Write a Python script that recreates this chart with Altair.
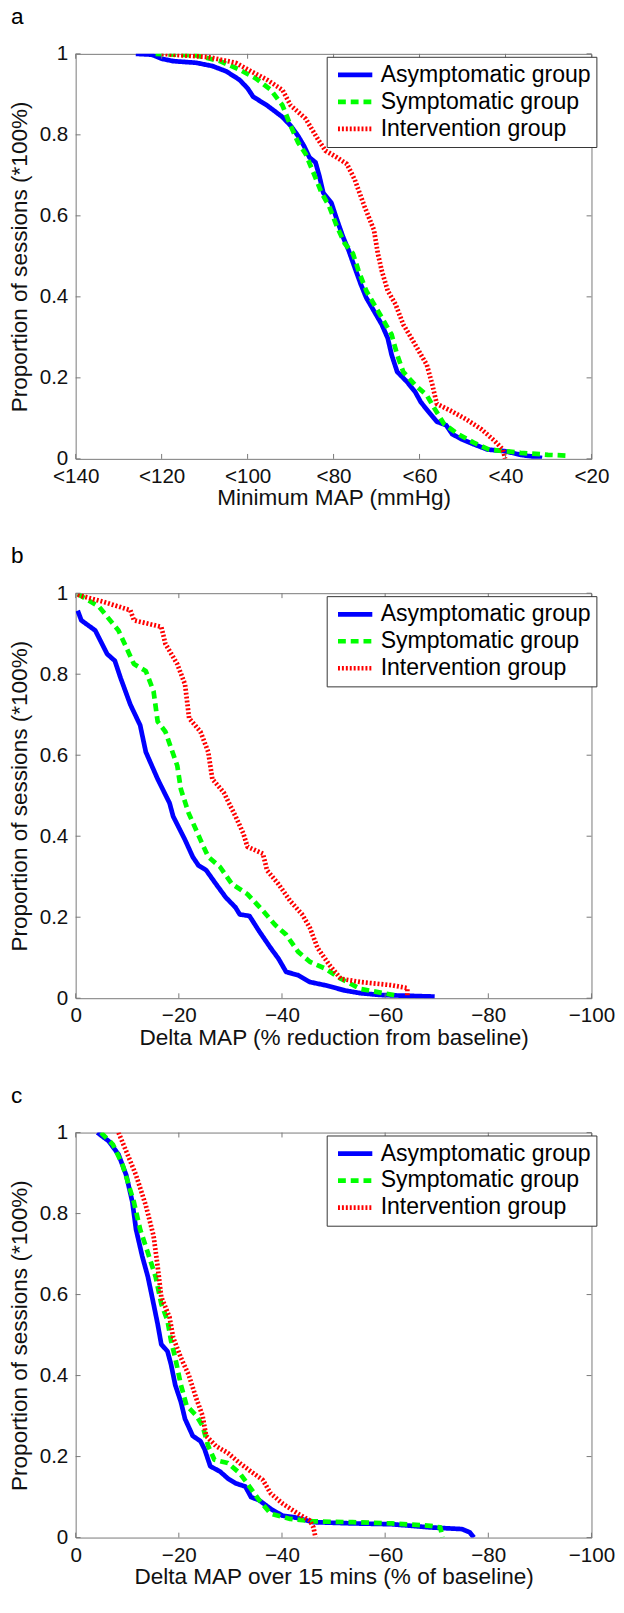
import altair as alt
import pandas as pd

GROUPS = ["Asymptomatic group", "Symptomatic group", "Intervention group"]
COLORS = ["#0000ff", "#00ff00", "#ff0000"]
DASHES = [[1, 0], [8, 5], [2, 2]]
WIDTHS = [4.8, 4.8, 2.4]

Y_TICKS = [0, 0.2, 0.4, 0.6, 0.8, 1]
A_X_TICKS = [140, 120, 100, 80, 60, 40, 20]
BC_X_TICKS = [0, -20, -40, -60, -80, -100]

LETTERS = ["a", "b", "c"]
X_TITLES = ["Minimum MAP (mmHg)", "Delta MAP (% reduction from baseline)",
            "Delta MAP over 15 mins (% of baseline)"]
Y_TITLE = "Proportion of sessions (*100%)"

# ---- panel a : minimum MAP (mmHg) ----
A_ASYM_X = [126, 122.3, 120, 117.3, 112, 108.2, 105, 101.9, 100, 98.7, 95.5, 91.9, 90, 88.3, 86.9,
            85.6, 84.2, 83.3, 82.4, 80.5, 79.2, 77.8, 76.5, 75.1, 73.7, 72.4, 70.6, 68.8, 67.4,
            66.5, 65.2, 62.9, 61, 59.7, 57.8, 56, 53.8, 52.4, 50.1, 47.4, 44.2, 40.1, 36.5, 31.5]
A_ASYM_Y = [1.0, 0.998, 0.988, 0.982, 0.978, 0.97, 0.957, 0.936, 0.915, 0.894, 0.873, 0.844, 0.823,
            0.798, 0.773, 0.744, 0.732, 0.698, 0.657, 0.632, 0.59, 0.548, 0.515, 0.473, 0.432,
            0.398, 0.365, 0.332, 0.298, 0.257, 0.215, 0.19, 0.165, 0.14, 0.115, 0.092, 0.083,
            0.061, 0.048, 0.036, 0.023, 0.019, 0.01, 0.002]
A_SYM_X = [121.4, 111.9, 106.4, 101.9, 98.2, 94.6, 91.9, 90, 88.3, 86.5, 84.7, 82.8, 81, 79.2,
           77.4, 75.5, 74.2, 72.4, 70.6, 68.3, 66.5, 65.2, 63.8, 61, 58.3, 56.5, 54.3, 51, 47.4,
           43.8, 36.5, 30.1, 25.6]
A_SYM_Y = [1.0, 0.996, 0.982, 0.961, 0.94, 0.911, 0.873, 0.823, 0.782, 0.753, 0.707, 0.657, 0.623,
           0.573, 0.532, 0.507, 0.465, 0.415, 0.382, 0.34, 0.307, 0.257, 0.215, 0.182, 0.157,
           0.124, 0.086, 0.061, 0.04, 0.023, 0.015, 0.01, 0.008]
A_INT_X = [120, 109.1, 102.8, 99.2, 95.5, 91.9, 90, 86.5, 83.7, 81.9, 79.2, 76.9, 75.1, 72.8,
           70.6, 69.7, 68.8, 67.4, 65.6, 63.8, 61.9, 60.1, 58.3, 57, 56, 52.8, 49.2, 45.6, 42.5,
           40.6, 40.1]
A_INT_Y = [1.0, 0.992, 0.978, 0.957, 0.936, 0.911, 0.873, 0.84, 0.79, 0.761, 0.744, 0.728, 0.69,
           0.623, 0.565, 0.507, 0.465, 0.415, 0.382, 0.332, 0.298, 0.265, 0.232, 0.182, 0.136,
           0.119, 0.098, 0.073, 0.044, 0.023, 0.0]

# ---- panel b : delta MAP (% reduction from baseline) ----
B_ASYM_X = [-0.4, -1.1, -3.8, -6.1, -7.6, -8.7, -10.6, -12.5, -13.6, -15.9, -18.2, -18.9, -21.2,
            -22.7, -23.8, -25.3, -27.2, -29.1, -31, -31.8, -33.7, -35.6, -37.8, -39.3, -40.8,
            -43.1, -45.4, -48.4, -52.2, -55.2, -59, -69.6]
B_ASYM_Y = [0.957, 0.933, 0.908, 0.85, 0.833, 0.791, 0.725, 0.674, 0.608, 0.541, 0.482, 0.449,
            0.391, 0.349, 0.328, 0.316, 0.282, 0.249, 0.224, 0.207, 0.203, 0.165, 0.124, 0.098,
            0.065, 0.057, 0.04, 0.032, 0.019, 0.0125, 0.008, 0.004]
B_SYM_X = [-0.4, -4.5, -8.3, -11.3, -13.6, -15.1, -15.9, -17.4, -19.7, -20.4, -21.9, -24.2, -25.7,
           -28, -30.3, -33.3, -36.3, -38.6, -40.8, -43.1, -45.4, -48.4, -51.4, -55.2, -62, -62.4]
B_SYM_Y = [0.998, 0.967, 0.908, 0.825, 0.808, 0.758, 0.683, 0.658, 0.574, 0.516, 0.457, 0.391,
           0.349, 0.324, 0.282, 0.257, 0.216, 0.182, 0.157, 0.115, 0.09, 0.073, 0.048, 0.023,
           0.007, 0.0]
B_INT_X = [-0.4, -5.3, -10.6, -11.3, -16.6, -17.4, -19.7, -21.2, -22, -24.2, -25.7, -26.5, -28.7,
           -31, -32.5, -33.3, -36.3, -37.1, -39.3, -41.6, -43.9, -45.4, -46.9, -49.2, -51.4,
           -55.2, -61.3, -64.3, -64.3]
B_INT_Y = [0.996, 0.979, 0.958, 0.933, 0.917, 0.875, 0.825, 0.775, 0.691, 0.658, 0.608, 0.541,
           0.508, 0.449, 0.407, 0.374, 0.357, 0.316, 0.282, 0.24, 0.207, 0.174, 0.124, 0.082,
           0.048, 0.04, 0.032, 0.025, 0.007]

# ---- panel c : delta MAP over 15 mins (% of baseline) ----
C_ASYM_X = [-4.2, -6.4, -8.3, -9.8, -11, -11.7, -12.9, -14, -15.1, -15.9, -16.6, -17.8, -18.5,
            -19.3, -20.4, -21.2, -22.7, -24.2, -25, -26.1, -28, -29.5, -31, -32.9, -34, -35.6,
            -37.8, -40.1, -42.4, -46.1, -53.7, -61.3, -68.8, -74.9, -76.4, -77.2]
C_ASYM_Y = [1.0, 0.979, 0.946, 0.895, 0.828, 0.761, 0.695, 0.644, 0.577, 0.527, 0.477, 0.46,
            0.427, 0.377, 0.335, 0.293, 0.251, 0.238, 0.218, 0.176, 0.163, 0.146, 0.134, 0.126,
            0.1, 0.092, 0.071, 0.054, 0.05, 0.038, 0.035, 0.033, 0.025, 0.021, 0.013, 0.0]
C_SYM_X = [-4.9, -7.2, -9.1, -11.3, -12.5, -14, -15.5, -16.6, -17.8, -18.5, -19.3, -20.4, -21.5,
           -23.4, -24.6, -25.7, -26.9, -29.5, -31.8, -33.7, -35.6, -37.8, -41.6, -46.1, -53.7,
           -61.3, -68.8, -70.7, -71.1]
C_SYM_Y = [1.0, 0.971, 0.92, 0.828, 0.761, 0.703, 0.644, 0.577, 0.536, 0.485, 0.444, 0.377, 0.326,
           0.301, 0.276, 0.226, 0.192, 0.184, 0.159, 0.126, 0.092, 0.059, 0.046, 0.04, 0.038,
           0.035, 0.029, 0.025, 0.0]
C_INT_X = [-8.3, -9.8, -11.7, -13.6, -15.1, -15.9, -16.6, -18.2, -18.9, -20.4, -21.9, -23.4, -24.6,
           -25.3, -27.2, -29.5, -31.8, -34, -36.3, -37.8, -40.1, -43.1, -45.4, -46.1, -46.5]
C_INT_Y = [1.0, 0.954, 0.895, 0.82, 0.745, 0.669, 0.594, 0.544, 0.494, 0.444, 0.402, 0.343, 0.301,
           0.251, 0.226, 0.209, 0.184, 0.163, 0.142, 0.109, 0.084, 0.059, 0.042, 0.025, 0.0]

PANELS = [
    [(A_ASYM_X, A_ASYM_Y), (A_SYM_X, A_SYM_Y), (A_INT_X, A_INT_Y)],
    [(B_ASYM_X, B_ASYM_Y), (B_SYM_X, B_SYM_Y), (B_INT_X, B_INT_Y)],
    [(C_ASYM_X, C_ASYM_Y), (C_SYM_X, C_SYM_Y), (C_INT_X, C_INT_Y)],
]

W, H = 526, 413
FONT = "Liberation Sans"
FRAME = "#777777"
TXT = "#111111"


def make_panel(k):
    rows = []
    for g, (xs, ys) in zip(GROUPS, PANELS[k]):
        for i, (xv, yv) in enumerate(zip(xs, ys)):
            rows.append({"group": g, "x": xv, "y": yv, "idx": i})
    df = pd.DataFrame(rows)

    if k == 0:
        xticks = A_X_TICKS
        xscale = alt.Scale(domain=[20, 140], reverse=True, nice=False, zero=False)
        label_expr = "'<' + datum.value"
    else:
        xticks = BC_X_TICKS
        xscale = alt.Scale(domain=[-100, 0], reverse=True, nice=False, zero=False)
        label_expr = "format(datum.value, 'd')"

    xaxis = alt.Axis(values=xticks, labelExpr=label_expr, labelFontSize=21, labelPadding=24,
                     labelBaseline="alphabetic", labelFlush=False, labelOverlap=False,
                     ticks=False, tickSize=0, domain=False, grid=False,
                     title=X_TITLES[k], titleFontSize=23, titleFontWeight="normal",
                     titleX=W / 2, titleY=47, titleBaseline="alphabetic", titleAlign="center",
                     labelColor=TXT, titleColor=TXT, labelFont=FONT, titleFont=FONT)
    yaxis = alt.Axis(values=Y_TICKS, format=".1~f", labelFontSize=21, labelPadding=8,
                     labelFlush=False, labelOverlap=False,
                     ticks=False, tickSize=0, domain=False, grid=False,
                     title=Y_TITLE, titleFontSize=23, titleFontWeight="normal",
                     titleX=-57, titleY=H / 2, titleAngle=270, titleBaseline="middle",
                     titleAlign="center", labelColor=TXT, titleColor=TXT,
                     labelFont=FONT, titleFont=FONT)
    yscale = alt.Scale(domain=[0, 1], nice=False)

    X = alt.X("x:Q", scale=xscale, axis=xaxis)
    Y = alt.Y("y:Q", scale=yscale, axis=yaxis)

    legend = alt.Legend(title=None, orient="none", legendX=256, legendY=3,
                        symbolType="stroke", symbolSize=1225, labelFontSize=23.5,
                        labelFont=FONT, labelColor="black", labelOffset=6,
                        labelLimit=400, strokeColor="#333333", fillColor="white",
                        padding=5, clipHeight=27, rowPadding=0.5, symbolOffset=4)

    layers = []
    for g in GROUPS:
        layers.append(
            alt.Chart(df).transform_filter(alt.datum.group == g).mark_line(
                strokeCap="butt", strokeJoin="round", clip=True
            ).encode(
                x=X, y=Y,
                color=alt.Color("group:N", scale=alt.Scale(domain=GROUPS, range=COLORS),
                                legend=legend),
                strokeDash=alt.StrokeDash("group:N",
                                          scale=alt.Scale(domain=GROUPS, range=DASHES),
                                          legend=legend),
                strokeWidth=alt.StrokeWidth("group:N",
                                            scale=alt.Scale(domain=GROUPS, range=WIDTHS),
                                            legend=legend),
                order="idx:Q",
            )
        )

    xt = pd.DataFrame({"x": xticks})
    yt = pd.DataFrame({"y": Y_TICKS})
    tick_style = dict(color=FRAME, strokeWidth=1)
    layers.append(alt.Chart(xt).mark_rule(**tick_style).encode(
        x=X, y=alt.value(H), y2=alt.value(H - 5)))
    layers.append(alt.Chart(xt).mark_rule(**tick_style).encode(
        x=X, y=alt.value(0), y2=alt.value(5)))
    layers.append(alt.Chart(yt).mark_rule(**tick_style).encode(
        y=Y, x=alt.value(0), x2=alt.value(5)))
    layers.append(alt.Chart(yt).mark_rule(**tick_style).encode(
        y=Y, x=alt.value(W), x2=alt.value(W - 5)))

    return alt.layer(*layers).properties(
        width=W, height=H,
        title=alt.TitleParams(LETTERS[k], anchor="start", frame="bounds", fontSize=23,
                              fontWeight="normal", font=FONT, color="black",
                              baseline="alphabetic", offset=-3.5, dx=2),
    )


chart = alt.vconcat(make_panel(0), make_panel(1), make_panel(2), spacing=35).resolve_scale(
    x="independent", color="independent", strokeDash="independent", strokeWidth="independent"
).properties(
    padding={"left": 0, "top": -18, "right": 0, "bottom": 0}
).configure(font=FONT).configure_view(
    stroke=FRAME, strokeWidth=1
)

chart.save("out.html", embed_options={"renderer": "svg", "actions": False})
